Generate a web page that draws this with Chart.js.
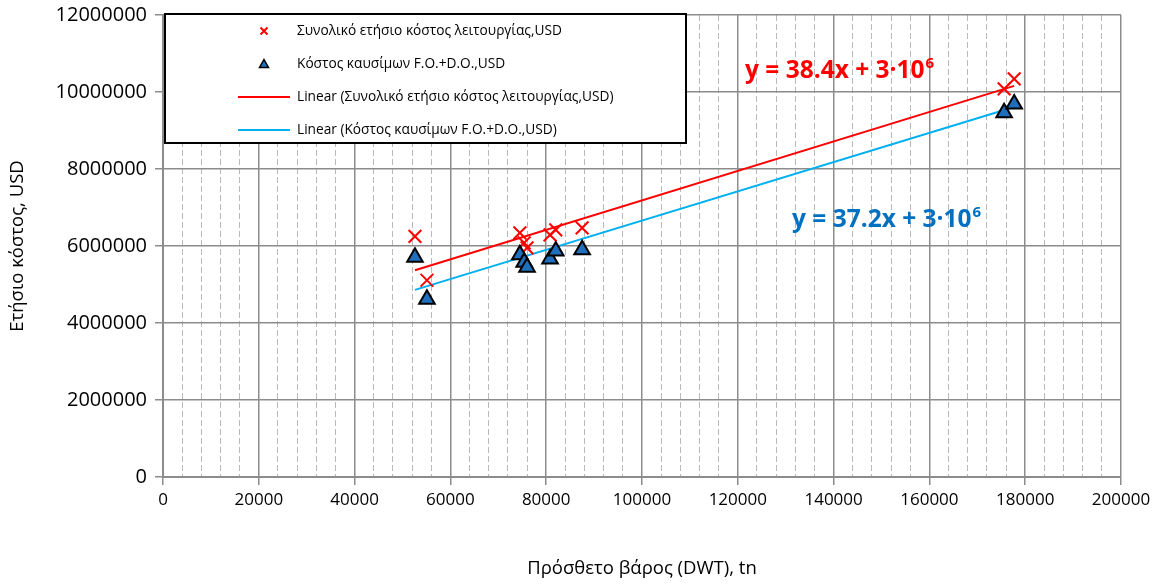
<!DOCTYPE html>
<html>
<head>
<meta charset="utf-8">
<script src="https://cdn.jsdelivr.net/npm/chart.js@4/dist/chart.umd.min.js"></script>
<style>
  html, body { margin: 0; padding: 0; background: #fff; }
  #wrap { width: 1164px; height: 584px; }
</style>
</head>
<body>
<div id="wrap"><canvas id="c" width="1164" height="584"></canvas></div>
<script>
// ---- data ----
const dwt       = [52600, 55100, 74500, 75400, 76000, 80800, 82000, 87500, 175600, 177700];
const totalCost = [6250000, 5110000, 6340000, 6080000, 5950000, 6290000, 6420000, 6470000, 10080000, 10340000];
const fuelCost  = [5710000, 4620000, 5770000, 5580000, 5450000, 5660000, 5870000, 5900000, 9460000, 9690000];
const trendX     = [52600, 177700];
const totalTrend = [5370000, 10160000];
const fuelTrend  = [4860000, 9610000];
const xTicks = [0, 20000, 40000, 60000, 80000, 100000, 120000, 140000, 160000, 180000, 200000];
const yTicks = [0, 2000000, 4000000, 6000000, 8000000, 10000000, 12000000];
const seriesLabels = [
  'Συνολικό ετήσιο κόστος λειτουργίας,USD',
  'Κόστος καυσίμων F.O.+D.O.,USD',
  'Linear (Συνολικό ετήσιο κόστος λειτουργίας,USD)',
  'Linear (Κόστος καυσίμων F.O.+D.O.,USD)'
];
const eqTotal = { main: 'y = 38.4x + 3·10', sup: '6' };
const eqFuel  = { main: 'y = 37.2x + 3·10', sup: '6' };
const xTitle = 'Πρόσθετο βάρος (DWT), tn';
const yTitle = 'Ετήσιο κόστος, USD';

const pts = (xs, ys) => xs.map((x, i) => ({ x: x, y: ys[i] }));

const FONT = "'Open Sans', sans-serif";
const RED = '#ff0000';
const TRI_FILL = '#1f6fbd';
const LIGHT_BLUE = '#00b0f0';
const EQ_BLUE = '#0070c0';
const MAJOR = '#8c8c8c';
const MINOR = '#b8b8b8';

const legendBox = {
  id: 'legendBox',
  afterDraw(chart) {
    const ctx = chart.ctx;
    ctx.save();
    const L = 165, T = 14, R = 686, B = 143;
    ctx.fillStyle = '#fff';
    ctx.fillRect(L, T, R - L, B - T);
    ctx.lineWidth = 2;
    ctx.strokeStyle = '#000';
    ctx.strokeRect(L, T, R - L, B - T);
    const rows = [31, 64, 97, 130];
    const mx = 264;
    chart.data.datasets.forEach((ds, i) => {
      const y = rows[i];
      if (ds.showLine) {
        ctx.strokeStyle = ds.borderColor;
        ctx.lineWidth = 2;
        ctx.beginPath(); ctx.moveTo(238, y); ctx.lineTo(290, y); ctx.stroke();
      } else if (ds.pointStyle === 'crossRot') {
        ctx.strokeStyle = ds.borderColor;
        ctx.lineWidth = 2;
        const s = 3.5;
        ctx.beginPath();
        ctx.moveTo(mx - s, y - s); ctx.lineTo(mx + s, y + s);
        ctx.moveTo(mx + s, y - s); ctx.lineTo(mx - s, y + s);
        ctx.stroke();
      } else {
        ctx.fillStyle = ds.backgroundColor;
        ctx.strokeStyle = '#000';
        ctx.lineWidth = 1.5;
        ctx.beginPath();
        ctx.moveTo(mx, y - 4.5); ctx.lineTo(mx + 4.5, y + 3.5); ctx.lineTo(mx - 4.5, y + 3.5); ctx.closePath();
        ctx.fill(); ctx.stroke();
      }
      ctx.fillStyle = '#000';
      ctx.font = "13.7px " + FONT;
      ctx.textBaseline = 'middle';
      ctx.textAlign = 'left';
      ctx.fillText(ds.label, 297, y);
    });
    ctx.restore();
  }
};

const equations = {
  id: 'equations',
  afterDatasetsDraw(chart) {
    const ctx = chart.ctx;
    ctx.save();
    const draw = (eq, x, y, color) => {
      ctx.fillStyle = color;
      ctx.textBaseline = 'alphabetic';
      ctx.textAlign = 'left';
      ctx.font = "bold 24.5px " + FONT;
      ctx.fillText(eq.main, x, y);
      const w = ctx.measureText(eq.main).width;
      ctx.font = "bold 15px " + FONT;
      ctx.fillText(eq.sup, x + w + 1, y - 10);
    };
    draw(eqTotal, 745, 78, RED);
    draw(eqFuel, 792, 227, EQ_BLUE);
    ctx.restore();
  }
};

new Chart(document.getElementById('c'), {
  type: 'scatter',
  data: {
    datasets: [
      {
        label: seriesLabels[0],
        data: pts(dwt, totalCost),
        pointStyle: 'crossRot',
        radius: 9,
        borderColor: RED,
        backgroundColor: RED,
        borderWidth: 2,
        order: 1
      },
      {
        label: seriesLabels[1],
        data: pts(dwt, fuelCost),
        pointStyle: 'triangle',
        radius: 9,
        borderColor: '#000',
        backgroundColor: TRI_FILL,
        borderWidth: 2,
        order: 0
      },
      {
        type: 'line',
        label: seriesLabels[2],
        data: pts(trendX, totalTrend),
        showLine: true,
        borderColor: RED,
        backgroundColor: RED,
        borderWidth: 2,
        pointRadius: 0,
        fill: false,
        order: 2
      },
      {
        type: 'line',
        label: seriesLabels[3],
        data: pts(trendX, fuelTrend),
        showLine: true,
        borderColor: LIGHT_BLUE,
        backgroundColor: LIGHT_BLUE,
        borderWidth: 2,
        pointRadius: 0,
        fill: false,
        order: 3
      }
    ]
  },
  options: {
    responsive: false,
    devicePixelRatio: 1,
    animation: false,
    layout: { padding: { left: 0, right: 43, top: 15, bottom: 0 } },
    plugins: {
      legend: { display: false },
      tooltip: { enabled: false }
    },
    scales: {
      x: {
        type: 'linear',
        min: xTicks[0],
        max: xTicks[xTicks.length - 1],
        afterFit(scale) { scale.height = 107; scale.paddingLeft = 0; scale.paddingRight = 0; },
        ticks: {
          stepSize: 4000,
          autoSkip: false,
          maxRotation: 0,
          padding: 5,
          color: '#000',
          font: { family: FONT, size: 17 },
          callback: (v) => xTicks.includes(v) ? String(v) : ''
        },
        grid: {
          color: (c) => (c.tick && xTicks.includes(c.tick.value)) ? MAJOR : MINOR,
          lineWidth: (c) => (c.tick && xTicks.includes(c.tick.value)) ? 1.5 : 1,
          tickColor: (c) => (c.tick && xTicks.includes(c.tick.value)) ? MAJOR : 'rgba(0,0,0,0)',
          tickLength: 8
        },
        border: {
          color: MAJOR,
          width: 2,
          dash: (c) => (c.tick && !xTicks.includes(c.tick.value)) ? [6, 3] : []
        },
        title: {
          display: true,
          text: xTitle,
          color: '#000',
          font: { family: FONT, size: 18.5 },
          padding: { top: 0, bottom: 4 }
        }
      },
      y: {
        type: 'linear',
        min: yTicks[0],
        max: yTicks[yTicks.length - 1],
        afterFit(scale) { scale.width = 163; scale.paddingTop = 0; scale.paddingBottom = 0; },
        ticks: {
          stepSize: 2000000,
          autoSkip: false,
          padding: 8,
          color: '#000',
          font: { family: FONT, size: 20 },
          callback: (v) => String(v)
        },
        grid: {
          color: MAJOR,
          lineWidth: 1.5,
          tickLength: 8
        },
        border: { color: MAJOR, width: 2 },
        title: {
          display: true,
          text: yTitle,
          color: '#000',
          font: { family: FONT, size: 18.5 },
          padding: { top: 7, bottom: 0 }
        }
      }
    }
  },
  plugins: [equations, legendBox]
});
</script>
</body>
</html>
